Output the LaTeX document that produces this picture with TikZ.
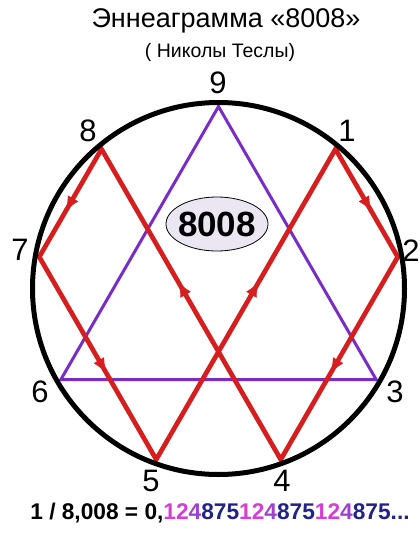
\documentclass[tikz,border=0pt]{standalone}
\usepackage{fontspec}
\setmainfont{Liberation Sans}
\usetikzlibrary{arrows.meta,decorations.markings}
\definecolor{redl}{RGB}{214,30,30}
\definecolor{purpl}{RGB}{122,44,200}
\definecolor{ellfill}{RGB}{234,230,242}
\definecolor{magd}{RGB}{214,60,214}
\definecolor{purd}{RGB}{160,64,208}
\definecolor{navyd}{RGB}{34,34,138}
\tikzset{
  redpath/.style={draw=redl, line width=4.7pt, line join=miter},
  arrowmark/.style={postaction={decorate}, decoration={markings,
     mark=at position 0.57 with {\arrow[redl]{Latex[length=14pt,width=12pt]}}}},
  purppath/.style={draw=purpl, line width=3pt, line join=miter},
  numlabel/.style={inner sep=0pt, font=\fontsize{31}{31}\selectfont},
}
\begin{document}
\begin{tikzpicture}[x=1pt,y=1pt]
\useasboundingbox (0,0) rectangle (420,-533);
\coordinate (c) at (218.5,-288.5);
\foreach \k in {0,...,8} {
  \coordinate (p\k) at ([shift={(c)}]{90-40*\k}:182);
}
% purple triangle 9-3-6
\draw[purppath] (p0) -- (p3) -- (p6) -- cycle;
% red path 1-2-4-8-7-5
\draw[redpath] (p1) -- (p2) -- (p4) -- (p8) -- (p7) -- (p5) -- cycle;
\path[arrowmark] (p1) -- (p2);
\path[arrowmark] (p2) -- (p4);
\path[arrowmark] (p4) -- (p8);
\path[arrowmark] (p8) -- (p7);
\path[arrowmark] (p7) -- (p5);
\path[arrowmark] (p5) -- (p1);
% circle
\node[circle, draw=black, line width=5pt, minimum size=372pt, inner sep=0pt] (ring) at (c) {};
% ellipse
\draw[black, line width=0.8pt, fill=ellfill] (217,-224) ellipse [x radius=51, y radius=27];
\node[inner sep=0pt, font=\fontsize{35}{35}\selectfont\bfseries] (e8008) at (217,-224) {8008};
% labels
\node[numlabel] (l9) at (218,-83) {9};
\node[numlabel] (l8) at (88,-131) {8};
\node[numlabel] (l1) at (347,-131) {1};
\node[numlabel] (l7) at (20,-250) {7};
\node[numlabel] (l2) at (411,-251) {2};
\node[numlabel] (l6) at (40,-392) {6};
\node[numlabel] (l3) at (395,-392) {3};
\node[numlabel] (l5) at (151,-481) {5};
\node[numlabel] (l4) at (282,-481) {4};
% titles
\node[inner sep=0pt, font=\fontsize{27}{27}\selectfont] (title) at (226,-21) {Эннеаграмма «8008»};
\node[inner sep=0pt, font=\fontsize{19.5}{19.5}\selectfont] (sub) at (220,-52) {( Николы Теслы)};
\node[inner sep=0pt, font=\fontsize{22.7}{22.7}\selectfont\bfseries] (formula) at (220,-513)
  {1 / 8,008 = 0,\textcolor{magd}{12}\textcolor{purd}{4}\textcolor{navyd}{875}\textcolor{magd}{12}\textcolor{purd}{4}\textcolor{navyd}{875}\textcolor{magd}{12}\textcolor{purd}{4}\textcolor{navyd}{875...}};
\end{tikzpicture}
\end{document}
